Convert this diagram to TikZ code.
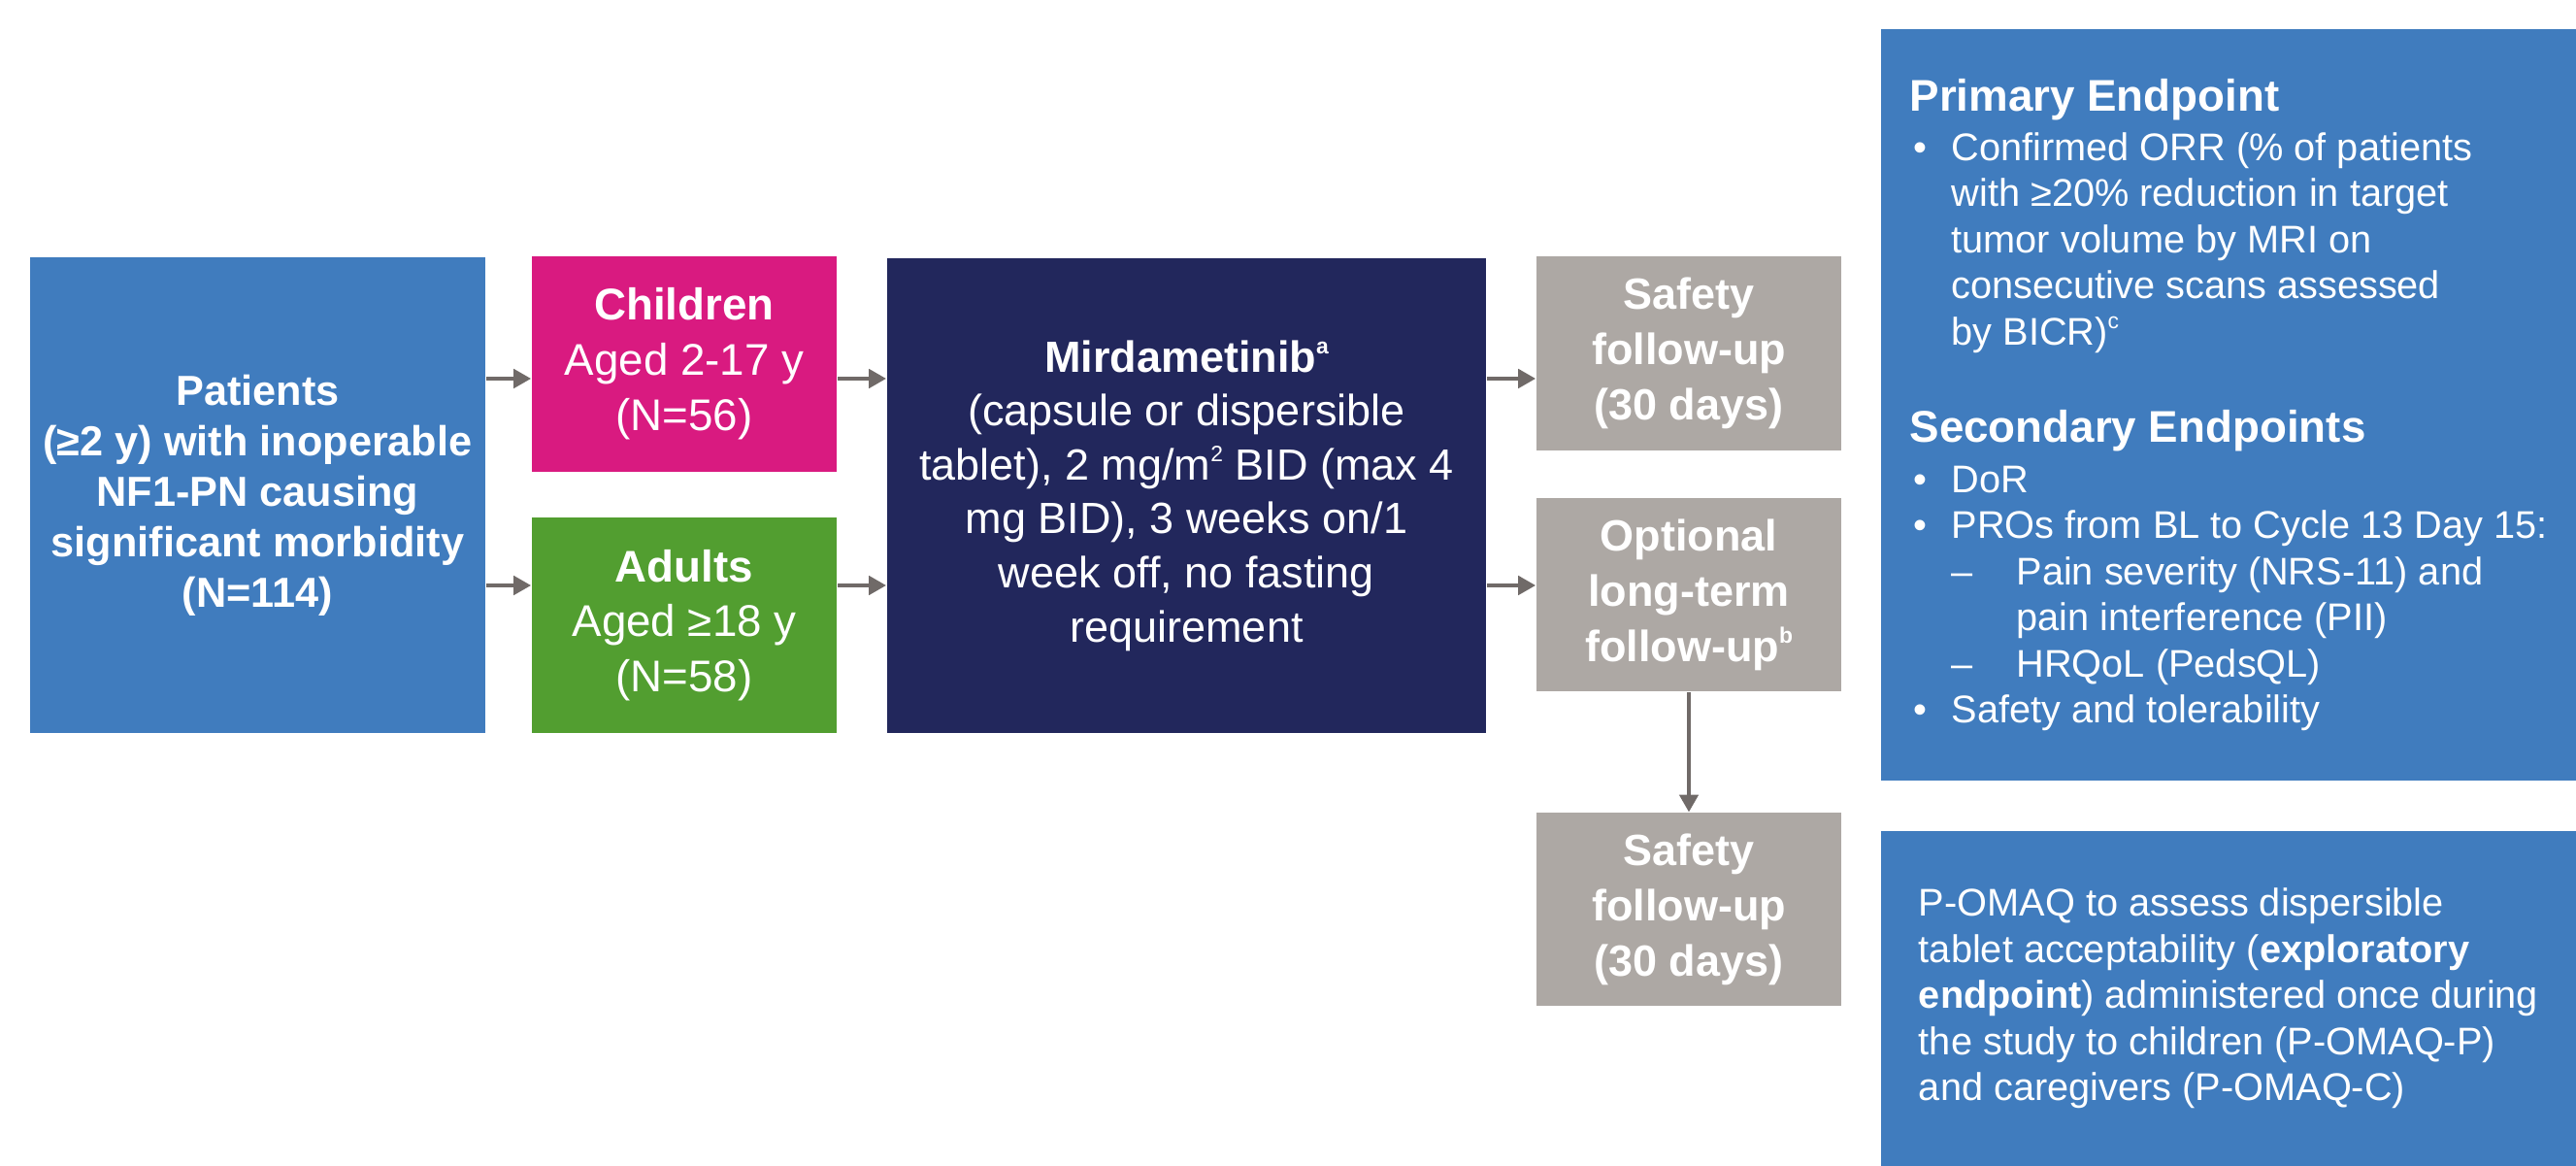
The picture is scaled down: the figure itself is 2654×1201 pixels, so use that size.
\documentclass[tikz,border=0pt]{standalone}
\usepackage{fontspec}
\setmainfont{Liberation Sans}
\usepackage{tikz}
\usetikzlibrary{arrows.meta}

\definecolor{popblue}{RGB}{64,124,190}
\definecolor{kidpink}{RGB}{217,26,128}
\definecolor{adultgreen}{RGB}{82,158,48}
\definecolor{drugnavy}{RGB}{34,39,92}
\definecolor{fugray}{RGB}{173,168,164}
\definecolor{arrgray}{RGB}{112,106,104}

\newcommand{\epbul}{\makebox[0.43cm][l]{\hspace{0.04cm}•}}
\newcommand{\epind}{\makebox[0.43cm]{}}
\newcommand{\epdash}{\makebox[0.43cm]{}\makebox[0.67cm][l]{–}}
\newcommand{\epsubind}{\makebox[1.10cm]{}}
\newcommand{\ephead}{\fontsize{13}{15}\selectfont\bfseries}
\newcommand{\supr}[1]{\raisebox{0.42em}{\fontsize{6.5}{6.5}\selectfont #1}}

\begin{document}
\begin{tikzpicture}[x=0.01cm,y=-0.01cm,node distance=2.5cm,
  arr/.style={-{Triangle[length=0.18cm,width=0.19cm]},line width=0.045cm,color=arrgray},
  box node/.style={rectangle,draw=none,text=white,align=center,inner sep=2pt},
  pop node/.style={box node,fill=popblue,minimum width=4.69cm,minimum height=4.90cm,
    font=\fontsize{12.3}{14.8}\selectfont\bfseries},
  arm node/.style={box node,minimum width=3.14cm,minimum height=2.22cm,
    font=\fontsize{13}{16.2}\selectfont},
  drug node/.style={box node,fill=drugnavy,minimum width=6.17cm,minimum height=4.89cm,
    font=\fontsize{12.8}{15.8}\selectfont},
  fu node/.style={box node,fill=fugray,minimum width=3.14cm,minimum height=1.99cm,
    font=\fontsize{12.8}{16.2}\selectfont\bfseries},
  ep node/.style={box node,fill=popblue,align=left,minimum width=7.16cm,
    font=\fontsize{11.3}{13.5}\selectfont}]

  \useasboundingbox (0,0) rectangle (2654,1201);

  \node[pop node] (1) at (265.5,510) {Patients\\(≥2 y) with inoperable\\NF1-PN causing\\significant morbidity\\(N=114)};
  \node[arm node,fill=kidpink] (2) at (705,375) {\textbf{Children}\\Aged 2-17 y\\(N=56)};
  \node[arm node,fill=adultgreen,node distance=2.69cm] (3) [below of=2] {\textbf{Adults}\\Aged ≥18 y\\(N=58)};
  \node[drug node] (4) at (1222.5,510.5) {\textbf{Mirdametinib\supr{a}}\\(capsule or dispersible\\tablet), 2 mg/m\supr{2} BID (max 4\\mg BID), 3 weeks on/1\\week off, no fasting\\requirement};
  \node[fu node] (5) at (1740,364) {Safety\\follow-up\\(30 days)};
  \node[fu node,node distance=2.485cm] (6) [below of=5] {Optional\\long-term\\follow-up\supr{b}};
  \node[fu node,node distance=3.24cm] (7) [below of=6] {Safety\\follow-up\\(30 days)};

  \node[ep node,minimum height=7.74cm] (8) at (2296,417) {%
    {\ephead Primary Endpoint}\\[1pt]
    \epbul Confirmed ORR (\% of patients\\
    \epind with ≥20\% reduction in target\\
    \epind tumor volume by MRI on\\
    \epind consecutive scans assessed\\
    \epind by BICR)\supr{c}\\[15pt]
    {\ephead Secondary Endpoints}\\[1.3pt]
    \epbul DoR\\
    \epbul PROs from BL to Cycle 13 Day 15:\\
    \epdash Pain severity (NRS-11) and\\
    \epsubind pain interference (PII)\\
    \epdash HRQoL (PedsQL)\\
    \epbul Safety and tolerability};
  \node[ep node,minimum height=3.45cm] (9) at (2296,1028.5) {%
    P-OMAQ to assess dispersible\\
    tablet acceptability (\textbf{exploratory}\\
    \textbf{endpoint}) administered once during\\
    the study to children (P-OMAQ-P)\\
    and caregivers (P-OMAQ-C)};

  % arrow rows
  \coordinate (r1) at (0,390);
  \coordinate (r2) at (0,603);

  \path[arr]
    (1.east |- r1) edge (2.west |- r1)
    (1.east |- r2) edge (3.west |- r2)
    (2.east |- r1) edge (4.west |- r1)
    (3.east |- r2) edge (4.west |- r2)
    (4.east |- r1) edge (5.west |- r1)
    (4.east |- r2) edge (6.west |- r2)
    (6) edge (7);
\end{tikzpicture}
\end{document}
